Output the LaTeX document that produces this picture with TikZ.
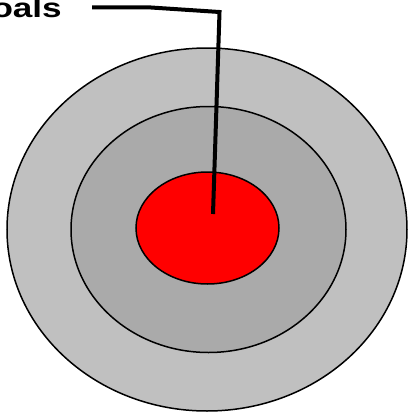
\documentclass[tikz,border=0pt]{standalone}
\usepackage{fontspec}
\setmainfont{Liberation Sans}
\definecolor{outergray}{RGB}{192,192,192}
\definecolor{midgray}{RGB}{170,170,170}
\definecolor{bullred}{RGB}{255,0,0}
\begin{document}
\begin{tikzpicture}[x=1pt,y=-1pt,
  ring/.style={draw=black,line width=1.5pt},
  leader/.style={draw=black,line width=4pt,line join=miter}]
\useasboundingbox (0,0) rectangle (410,413);
\fill[white] (0,0) rectangle (410,413);
\draw[ring,fill=outergray] (207,229.5) ellipse [x radius=200,y radius=181.5];
\draw[ring,fill=midgray] (208.5,229.5) ellipse [x radius=137.5,y radius=123];
\draw[ring,fill=bullred] (207.5,228) ellipse [x radius=71.5,y radius=56];
\node[anchor=base east,inner sep=0pt,xscale=1.3,font=\bfseries\fontsize{27}{32}\selectfont] (label) at (62,17.3) {Goals};
\coordinate (start) at (92,7.3);
\coordinate (bend) at (148,7.3);
\coordinate (corner) at (219.5,12);
\coordinate (tip) at (213,214);
\draw[leader] (start) -- (bend) -- (corner) -- (tip);
\end{tikzpicture}
\end{document}
